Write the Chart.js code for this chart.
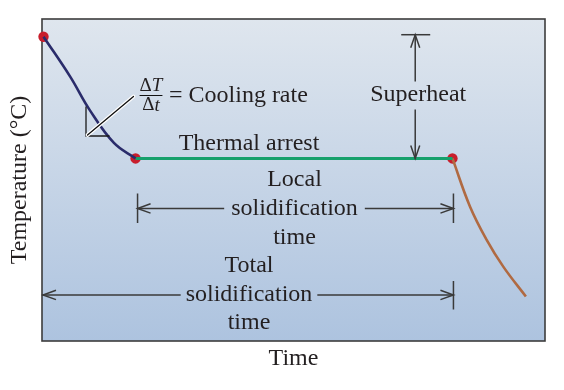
<!DOCTYPE html>
<html><head><meta charset="utf-8">
<script src="https://cdn.jsdelivr.net/npm/chart.js@4.4.1/dist/chart.umd.min.js"></script>
<style>html,body{margin:0;padding:0;background:#fff}#wrap{width:564px;height:390px;position:relative}</style>
</head><body><div id="wrap"><canvas id="c"></canvas></div>
<script>
// ---- data (time and temperature in arbitrary units, 0-100) ----
const coolingTime = [0.3, 5.6, 9.5, 14.3, 18.6];
const coolingTemp = [94.5, 82.1, 71.7, 61.5, 56.7];
const arrestTime  = [18.6, 81.6];
const arrestTemp  = [56.7, 56.7];
const solidTime   = [81.6, 85.1, 88.4, 91.7, 96.2];
const solidTemp   = [56.7, 41.7, 31.4, 23.1, 13.8];
const xTitle = 'Time';
const yTitle = 'Temperature (°C)';
const superheatLabel = 'Superheat';
const arrestLabel = 'Thermal arrest';
const localLabel = ['Local', 'solidification', 'time'];
const totalLabel = ['Total', 'solidification', 'time'];
const rateLabel = '= Cooling rate';

const pts = (xs, ys) => xs.map((x, i) => ({x, y: ys[i]}));
const keyPoints = [
  {x: coolingTime[0], y: coolingTemp[0]},
  {x: arrestTime[0], y: arrestTemp[0]},
  {x: arrestTime[arrestTime.length - 1], y: arrestTemp[arrestTemp.length - 1]}
];

const SERIF = "'Liberation Serif','Times New Roman',serif";
const INK = '#231f20';
const LINE = '#3a3a3a';

function hArrow(ctx, x, y, dir) { // dir: -1 head points left, +1 right
  ctx.beginPath();
  ctx.moveTo(x - dir * 13, y - 4.7);
  ctx.lineTo(x, y);
  ctx.lineTo(x - dir * 13, y + 4.7);
  ctx.stroke();
}
function vArrow(ctx, x, y, dir) { // dir: -1 up, +1 down
  ctx.beginPath();
  ctx.moveTo(x - 4.5, y - dir * 13);
  ctx.lineTo(x, y);
  ctx.lineTo(x + 4.5, y - dir * 13);
  ctx.stroke();
}

const annot = {
  id: 'annot',
  beforeDraw(chart) {
    const {ctx, chartArea: a} = chart;
    const g = ctx.createLinearGradient(0, a.top, 0, a.bottom);
    g.addColorStop(0, '#dfe6ee');
    g.addColorStop(1, '#adc3df');
    ctx.save();
    ctx.fillStyle = g;
    ctx.fillRect(a.left, a.top, a.right - a.left, a.bottom - a.top);
    ctx.restore();
  },
  beforeDatasetsDraw(chart) {
    const {ctx, chartArea: a} = chart;
    ctx.save();
    ctx.strokeStyle = '#3c3c3c';
    ctx.lineWidth = 1.6;
    ctx.strokeRect(a.left, a.top, a.right - a.left, a.bottom - a.top);
    ctx.restore();
  },
  afterDatasetsDraw(chart) {
    const {ctx, chartArea: a, scales: {x, y}} = chart;
    const px = v => x.getPixelForValue(v);
    const py = v => y.getPixelForValue(v);
    ctx.save();
    ctx.fillStyle = INK;
    ctx.strokeStyle = LINE;
    ctx.lineWidth = 1.5;
    ctx.textAlign = 'center';
    ctx.textBaseline = 'middle';
    ctx.font = '24px ' + SERIF;
    const lh = 29;

    // Thermal arrest label
    const arrY = py(arrestTemp[0]);
    ctx.fillText(arrestLabel, 249, arrY - 15);

    // Superheat
    const shX = px(74.2);
    const topY = py(coolingTemp[0]) - 2;
    ctx.beginPath(); ctx.moveTo(shX - 14, topY); ctx.lineTo(shX + 15, topY); ctx.stroke();
    const shTextY = (topY + arrY) / 2 - 2;
    ctx.fillText(superheatLabel, shX + 3, shTextY);
    ctx.beginPath(); ctx.moveTo(shX, topY); ctx.lineTo(shX, shTextY - 13);
    ctx.moveTo(shX, shTextY + 15); ctx.lineTo(shX, arrY); ctx.stroke();
    vArrow(ctx, shX, topY, -1);
    vArrow(ctx, shX, arrY, 1);

    // Local solidification time
    const lx0 = px(arrestTime[0]) + 2, lx1 = px(arrestTime[1]) + 1;
    const ly = arrY + 50;
    const lc = (lx0 + lx1) / 2 - 1;
    ctx.fillText(localLabel[0], lc, ly - lh);
    ctx.fillText(localLabel[1], lc, ly);
    ctx.fillText(localLabel[2], lc, ly + lh);
    const lw = ctx.measureText(localLabel[1]).width / 2 + 7;
    ctx.beginPath();
    ctx.moveTo(lx0, ly); ctx.lineTo(lc - lw, ly);
    ctx.moveTo(lc + lw, ly); ctx.lineTo(lx1, ly);
    ctx.moveTo(lx0, ly - 15); ctx.lineTo(lx0, ly + 14.5);
    ctx.moveTo(lx1, ly - 15); ctx.lineTo(lx1, ly + 14.5);
    ctx.stroke();
    hArrow(ctx, lx0, ly, -1);
    hArrow(ctx, lx1, ly, 1);

    // Total solidification time
    const tx0 = a.left, tx1 = lx1;
    const ty = ly + 86.5;
    const tc = 249;
    ctx.fillText(totalLabel[0], tc, ty - lh);
    ctx.fillText(totalLabel[1], tc, ty);
    ctx.fillText(totalLabel[2], tc, ty + lh - 1);
    const tw = ctx.measureText(totalLabel[1]).width / 2 + 5;
    ctx.beginPath();
    ctx.moveTo(tx0, ty); ctx.lineTo(tc - tw, ty);
    ctx.moveTo(tc + tw, ty); ctx.lineTo(tx1, ty);
    ctx.moveTo(tx1, ty - 14); ctx.lineTo(tx1, ty + 14.5);
    ctx.stroke();
    hArrow(ctx, tx0 + 1, ty, -1);
    hArrow(ctx, tx1, ty, 1);

    // Cooling rate triangle & leader
    ctx.strokeStyle = '#1a1a1a';
    ctx.lineWidth = 1.3;
    ctx.beginPath();
    ctx.moveTo(86, 106.5); ctx.lineTo(86, 136); ctx.lineTo(109.5, 136);
    ctx.stroke();
    ctx.lineCap = 'round';
    ctx.strokeStyle = '#ffffff';
    ctx.lineWidth = 3.6;
    ctx.beginPath(); ctx.moveTo(87.5, 135); ctx.lineTo(133.5, 96.5); ctx.stroke();
    ctx.strokeStyle = '#111111';
    ctx.lineWidth = 1.3;
    ctx.beginPath(); ctx.moveTo(87.5, 135); ctx.lineTo(133.5, 96.5); ctx.stroke();

    // fraction ΔT / Δt
    const fx = 151, fy = 95.5;
    ctx.font = '19px ' + SERIF;
    const dW = ctx.measureText('Δ').width;
    ctx.font = 'italic 19px ' + SERIF;
    const TW = ctx.measureText('T').width, tW = ctx.measureText('t').width;
    ctx.textAlign = 'left';
    let sx = fx - (dW + TW) / 2;
    ctx.font = '19px ' + SERIF; ctx.fillText('Δ', sx, fy - 9.5);
    ctx.font = 'italic 19px ' + SERIF; ctx.fillText('T', sx + dW, fy - 9.5);
    sx = fx - (dW + tW) / 2;
    ctx.font = '19px ' + SERIF; ctx.fillText('Δ', sx, fy + 10);
    ctx.font = 'italic 19px ' + SERIF; ctx.fillText('t', sx + dW, fy + 10);
    ctx.lineWidth = 1.1;
    ctx.beginPath(); ctx.moveTo(140, fy); ctx.lineTo(162, fy); ctx.stroke();
    ctx.font = '24px ' + SERIF;
    ctx.fillText(rateLabel, 169, fy);
    ctx.restore();
  }
};

new Chart(document.getElementById('c'), {
  type: 'line',
  data: {
    datasets: [
      {data: pts(coolingTime, coolingTemp), borderColor: '#2a2c6b', borderWidth: 2.6, tension: 0.4, pointRadius: 0},
      {data: pts(arrestTime, arrestTemp), borderColor: '#16a06c', borderWidth: 3, pointRadius: 0},
      {data: pts(solidTime, solidTemp), borderColor: '#b06a42', borderWidth: 2.6, tension: 0.4, pointRadius: 0},
      {data: keyPoints, showLine: false, pointRadius: 5.2, pointBackgroundColor: '#c81e2c', pointBorderWidth: 0, borderColor: '#c81e2c'}
    ]
  },
  options: {
    responsive: true,
    maintainAspectRatio: false,
    animation: false,
    clip: false,
    layout: {padding: {left: 0, top: 19, right: 19, bottom: 16.6}},
    plugins: {legend: {display: false}, tooltip: {enabled: false}},
    scales: {
      x: {
        type: 'linear', min: 0, max: 100,
        grid: {display: false, drawTicks: false},
        border: {display: false},
        ticks: {display: false},
        title: {display: true, text: xTitle, color: INK, font: {family: SERIF, size: 24}, padding: {top: 3.6, bottom: 0}}
      },
      y: {
        type: 'linear', min: 0, max: 100,
        grid: {display: false, drawTicks: false},
        border: {display: false},
        ticks: {display: false},
        title: {display: true, text: yTitle, color: INK, font: {family: SERIF, size: 24}, padding: {top: 5.6, bottom: 7.6}}
      }
    }
  },
  plugins: [annot]
});
</script>
</body></html>
